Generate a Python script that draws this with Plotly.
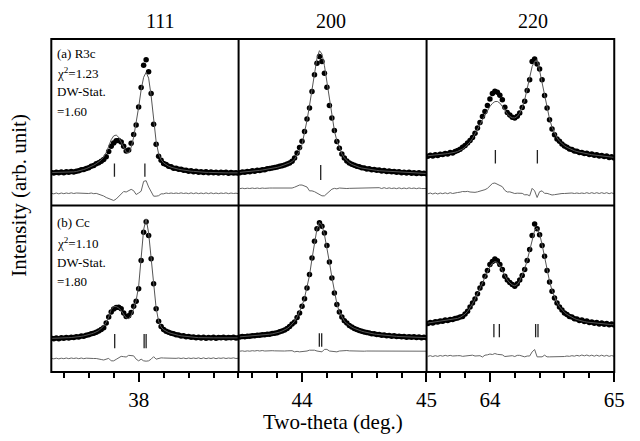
import numpy as np
import plotly.graph_objects as go

# ---------------- data ----------------
# scan grids (2-theta, deg)
tt_111 = np.round(37.65 + 0.01 * np.arange(76), 3)
tt_200 = np.round(43.50 + 0.02 * np.arange(76), 3)
tt_220 = np.round(63.50 + 0.02 * np.arange(76), 3)

# (a) R3c  -- observed (dots) and calculated (line), arb. units
obs_a_111 = [19.8, 19.5, 20.0, 19.6, 20.1, 19.7, 20.2, 19.9, 20.4, 20.1,
             20.6, 20.8, 21.4, 21.6, 22.2, 22.6, 23.6, 24.0, 25.1, 25.7,
             26.6, 27.6, 29.3, 32.4, 35.6, 37.5, 38.9, 39.1, 38.1, 35.6,
             32.8, 33.3, 37.4, 42.6, 48.3, 59.2, 70.8, 84.2, 87.6, 80.3,
             67.2, 48.8, 36.8, 29.6, 27.2, 25.3, 24.6, 23.5, 23.2, 22.4,
             22.3, 21.7, 21.8, 21.1, 21.2, 20.6, 20.9, 20.3, 20.6, 20.0,
             20.3, 19.8, 20.2, 19.7, 20.1, 19.6, 20.0, 19.5, 19.9, 19.6,
             19.9, 19.4, 19.8, 19.5, 19.7, 19.4]
calc_a_111 = [19.8, 19.8, 19.8, 19.9, 19.9, 19.9, 20.0, 20.0, 20.1, 20.2,
              20.4, 20.7, 21.1, 21.6, 22.1, 22.7, 23.4, 24.2, 25.1, 26.1,
              27.4, 29.2, 31.8, 35.5, 39.5, 41.8, 42.3, 41.0, 38.0, 34.5,
              32.0, 31.5, 35.0, 41.0, 49.0, 59.0, 69.5, 77.0, 80.0, 76.5,
              66.0, 50.5, 38.5, 31.0, 27.5, 25.6, 24.4, 23.6, 23.0, 22.5,
              22.1, 21.8, 21.5, 21.2, 21.0, 20.8, 20.6, 20.5, 20.3, 20.2,
              20.1, 20.0, 19.9, 19.9, 19.8, 19.8, 19.8, 19.7, 19.7, 19.7,
              19.6, 19.6, 19.6, 19.6, 19.6, 19.6]
obs_a_200 = [19.7, 20.1, 19.9, 20.4, 20.3, 20.8, 20.6, 21.1, 21.0, 21.5,
             21.5, 22.0, 22.2, 22.5, 22.8, 23.1, 23.5, 23.9, 24.3, 24.9,
             25.6, 26.6, 28.5, 31.5, 34.8, 38.6, 44.5, 52.0, 58.5, 68.5,
             78.5, 85.5, 89.5, 86.5, 79.5, 71.0, 60.0, 52.5, 45.0, 38.5,
             34.4, 31.0, 28.5, 26.8, 25.6, 24.7, 24.2, 23.5, 23.2, 22.6,
             22.5, 21.9, 22.0, 21.5, 21.6, 21.1, 21.3, 20.7, 21.0, 20.4,
             20.7, 20.2, 20.4, 19.9, 20.3, 19.7, 20.0, 19.5, 19.9, 19.4,
             19.7, 19.2, 19.6, 19.2, 19.4, 19.1]
calc_a_200 = [19.9, 20.0, 20.1, 20.3, 20.4, 20.6, 20.7, 20.9, 21.1, 21.3,
              21.5, 21.7, 22.0, 22.3, 22.6, 22.9, 23.3, 23.8, 24.3, 24.9,
              25.6, 26.4, 27.8, 30.2, 32.8, 36.6, 43.0, 51.2, 60.0, 70.0,
              80.5, 88.5, 93.0, 91.0, 84.0, 74.0, 62.0, 53.0, 45.0, 38.8,
              34.2, 31.0, 28.6, 26.9, 25.6, 24.7, 24.0, 23.4, 22.9, 22.5,
              22.2, 21.9, 21.7, 21.5, 21.3, 21.1, 20.9, 20.8, 20.6, 20.5,
              20.4, 20.3, 20.2, 20.1, 20.0, 19.9, 19.8, 19.7, 19.6, 19.5,
              19.5, 19.4, 19.4, 19.3, 19.3, 19.2]
obs_a_220 = [29.6, 30.2, 29.8, 30.5, 30.1, 30.8, 30.6, 31.3, 31.0, 31.8,
             31.6, 32.4, 33.0, 33.8, 35.0, 36.0, 37.6, 39.0, 40.8, 43.4,
             46.5, 49.8, 53.5, 56.5, 60.0, 64.0, 67.2, 68.6, 68.0, 66.2,
             63.5, 59.0, 55.8, 54.4, 53.0, 52.5, 53.6, 55.6, 58.8, 62.6,
             69.0, 75.5, 86.5, 88.0, 85.0, 82.0, 75.5, 66.0, 58.5, 51.5,
             46.0, 42.5, 40.0, 38.6, 37.0, 35.8, 35.0, 34.0, 33.6, 32.8,
             32.6, 31.9, 31.8, 31.2, 31.4, 30.7, 30.9, 30.2, 30.5, 29.8,
             30.1, 29.4, 29.7, 28.9, 29.3, 28.6]
calc_a_220 = [29.9, 30.0, 30.2, 30.3, 30.5, 30.6, 30.8, 31.0, 31.2, 31.4,
              31.7, 32.0, 32.5, 33.1, 33.9, 35.0, 36.4, 38.2, 40.3, 42.8,
              45.6, 48.5, 51.5, 54.3, 57.0, 59.5, 61.3, 62.4, 62.5, 61.5,
              59.5, 57.2, 55.0, 53.5, 52.7, 52.6, 53.5, 55.5, 58.8, 63.5,
              69.8, 77.0, 83.5, 86.5, 87.5, 81.0, 74.0, 66.0, 58.5, 52.0,
              47.0, 43.3, 40.6, 38.6, 37.1, 35.9, 34.9, 34.1, 33.4, 32.9,
              32.4, 32.0, 31.6, 31.3, 31.0, 30.8, 30.5, 30.3, 30.1, 29.9,
              29.7, 29.5, 29.3, 29.1, 29.0, 28.9]

# (b) Cc
obs_b_111 = [20.2, 19.9, 20.4, 20.0, 20.5, 20.2, 20.7, 20.4, 20.9, 20.7,
             21.2, 21.0, 21.6, 21.5, 22.1, 22.3, 22.9, 23.3, 23.9, 24.6,
             25.6, 26.6, 29.5, 33.0, 36.0, 37.8, 38.7, 38.9, 38.0, 35.5,
             33.3, 33.8, 35.8, 39.5, 42.5, 50.0, 67.0, 84.0, 90.3, 82.0,
             68.0, 53.0, 38.0, 30.5, 27.3, 25.6, 24.5, 23.9, 23.2, 22.9,
             22.3, 22.2, 21.6, 21.7, 21.1, 21.3, 20.8, 21.0, 20.6, 20.9,
             20.4, 20.8, 20.3, 20.7, 20.4, 20.8, 20.3, 20.7, 20.5, 20.8,
             20.4, 20.7, 20.5, 20.8, 20.4, 20.6]
calc_b_111 = [20.2, 20.2, 20.3, 20.3, 20.4, 20.4, 20.5, 20.6, 20.7, 20.8,
              21.0, 21.2, 21.4, 21.7, 22.0, 22.4, 22.9, 23.4, 24.0, 24.8,
              26.3, 27.6, 29.8, 33.0, 37.5, 39.3, 39.3, 38.5, 36.8, 34.5,
              32.5, 32.0, 34.0, 38.0, 43.0, 51.5, 67.5, 85.5, 92.0, 83.5,
              68.5, 52.0, 38.5, 30.5, 27.0, 25.4, 24.4, 23.7, 23.2, 22.7,
              22.3, 22.0, 21.7, 21.5, 21.3, 21.1, 20.9, 20.8, 20.7, 20.6,
              20.6, 20.5, 20.5, 20.5, 20.5, 20.5, 20.5, 20.5, 20.5, 20.5,
              20.5, 20.5, 20.5, 20.5, 20.5, 20.5]
obs_b_200 = [21.0, 21.3, 21.1, 21.5, 21.4, 21.8, 21.7, 22.1, 22.0, 22.4,
             22.3, 22.7, 22.7, 23.1, 23.3, 23.6, 24.1, 24.6, 25.3, 26.2,
             27.4, 28.8, 30.0, 32.8, 35.5, 39.5, 44.0, 50.5, 58.5, 68.5,
             78.5, 86.0, 89.6, 87.5, 83.5, 76.0, 66.0, 56.5, 47.5, 40.5,
             36.0, 33.0, 30.8, 29.4, 28.0, 27.0, 26.2, 25.5, 24.9, 24.5,
             24.0, 23.7, 23.4, 23.0, 22.9, 22.5, 22.5, 22.1, 22.2, 21.8,
             21.9, 21.5, 21.7, 21.3, 21.5, 21.1, 21.3, 20.9, 21.2, 20.8,
             21.1, 20.7, 21.0, 20.6, 20.9, 20.6]
calc_b_200 = [21.1, 21.2, 21.3, 21.4, 21.5, 21.6, 21.7, 21.8, 22.0, 22.1,
              22.3, 22.5, 22.7, 22.9, 23.2, 23.6, 24.0, 24.6, 25.3, 26.1,
              27.2, 28.6, 30.5, 33.0, 36.0, 39.8, 44.5, 50.5, 58.0, 68.0,
              78.0, 86.0, 89.8, 88.0, 82.5, 75.0, 66.0, 56.8, 48.0, 41.0,
              36.0, 32.8, 30.6, 29.1, 27.9, 27.0, 26.2, 25.5, 25.0, 24.5,
              24.1, 23.7, 23.4, 23.1, 22.8, 22.6, 22.4, 22.2, 22.0, 21.9,
              21.8, 21.6, 21.5, 21.4, 21.3, 21.2, 21.1, 21.0, 21.0, 20.9,
              20.9, 20.8, 20.8, 20.7, 20.7, 20.7]
obs_b_220 = [29.2, 29.8, 29.5, 30.2, 30.0, 30.7, 30.5, 31.2, 31.0, 31.6,
             31.5, 32.1, 32.4, 33.0, 33.4, 34.8, 36.5, 39.0, 41.5, 43.8,
             47.0, 50.5, 53.0, 57.5, 61.0, 64.5, 66.3, 67.8, 66.8, 64.5,
             61.5, 57.5, 55.2, 53.8, 52.5, 51.5, 53.0, 55.2, 58.0, 61.5,
             67.0, 73.5, 82.0, 88.9, 86.0, 82.5, 76.0, 69.5, 61.0, 54.0,
             48.5, 44.5, 41.5, 39.0, 37.2, 35.5, 34.6, 33.4, 33.0, 32.0,
             31.9, 31.0, 31.2, 30.4, 30.6, 29.8, 30.1, 29.3, 29.7, 28.9,
             29.4, 28.7, 29.1, 28.4, 28.8, 28.2]
calc_b_220 = [29.4, 29.6, 29.8, 30.0, 30.2, 30.4, 30.6, 30.8, 31.0, 31.2,
              31.5, 31.8, 32.2, 32.8, 33.6, 34.8, 36.4, 38.5, 41.0, 43.8,
              47.0, 50.3, 53.6, 57.0, 60.3, 63.3, 65.4, 66.3, 65.8, 63.8,
              60.8, 57.8, 55.3, 53.5, 52.3, 51.8, 52.6, 54.8, 58.0, 62.0,
              67.0, 73.5, 79.5, 85.0, 86.5, 83.0, 76.5, 69.0, 61.5, 54.5,
              49.0, 44.8, 41.6, 39.2, 37.3, 35.8, 34.6, 33.6, 32.8, 32.1,
              31.5, 31.0, 30.6, 30.3, 30.0, 29.8, 29.6, 29.4, 29.2, 29.0,
              28.9, 28.8, 28.7, 28.6, 28.5, 28.4]

# Bragg reflection positions (deg)
refl_a_111 = [37.903, 38.025]
refl_a_200 = [44.150]
refl_a_220 = [64.044, 64.382]
refl_b_111 = [37.904, 38.022, 38.030]
refl_b_200 = [44.139, 44.158]
refl_b_220 = [64.032, 64.076, 64.368, 64.387]

col_headers = ["111", "200", "220"]
panel_labels = [["(a) R3c", "χ<sup>2</sup>=1.23", "DW-Stat.", "=1.60"],
                ["(b) Cc", "χ<sup>2</sup>=1.10", "DW-Stat.", "=1.80"]]
x_ticks = [[38], [44, 45], [64, 65]]

# ---------------- layout helpers ----------------
OFF = 8                      # page body margin of the html page
W, H = 640 - OFF, 441 - OFF
FONT = "Liberation Serif"


def px(v):
    return (v - OFF) / W


def py(v):
    return 1 - (v - OFF) / H


col_px = [(52, 242.3), (242.3, 433.3), (433.3, 624)]
row_px = [(39, 205.5), (205.5, 372)]
x_ranges = [[37.65, 38.4005], [43.49, 45.001], [63.49, 65.001]]
minor_dt = [0.1, 0.2, 0.2]

grids = [tt_111, tt_200, tt_220]
obs = [[obs_a_111, obs_a_200, obs_a_220], [obs_b_111, obs_b_200, obs_b_220]]
calc = [[calc_a_111, calc_a_200, calc_a_220], [calc_b_111, calc_b_200, calc_b_220]]
refl = [[refl_a_111, refl_a_200, refl_a_220], [refl_b_111, refl_b_200, refl_b_220]]
diff_zero = [[7.3, 10.3, 7.3], [8.2, 12.6, 9.6]]
tick_span = [[(17.3, 25.3), (15.3, 24.3), (25.3, 33.3)],
             [(14.2, 22.8), (15.2, 23.2), (20.8, 28.8)]]

fig = go.Figure()
layout = dict(width=W, height=H, autosize=False, margin=dict(l=0, r=0, t=0, b=0),
              paper_bgcolor="white", plot_bgcolor="white", showlegend=False,
              font=dict(family=FONT, color="black"))

annotations = []
for r in range(2):
    for c in range(3):
        n = r * 3 + c + 1
        xa = "x" if n == 1 else f"x{n}"
        ya = "y" if n == 1 else f"y{n}"
        xkey = "xaxis" if n == 1 else f"xaxis{n}"
        ykey = "yaxis" if n == 1 else f"yaxis{n}"
        x0, x1 = col_px[c]
        y0, y1 = row_px[r]
        bottom = (r == 1)
        xd = dict(domain=[px(x0), px(x1)], range=x_ranges[c], anchor=ya,
                  showgrid=False, zeroline=False, showline=False)
        if bottom:
            xd.update(tickmode="array", tickvals=x_ticks[c],
                      ticktext=[str(v) for v in x_ticks[c]],
                      ticks="outside", ticklen=9, tickwidth=1.6, tickcolor="black",
                      tickfont=dict(family=FONT, size=21, color="black"),
                      minor=dict(dtick=minor_dt[c], tick0=0, ticks="outside",
                                 ticklen=5, tickwidth=1.6, tickcolor="black"))
        else:
            xd.update(showticklabels=False, ticks="")
        layout[xkey] = xd
        layout[ykey] = dict(domain=[py(y1), py(y0)], range=[0, 100],
                            anchor=xa, showgrid=False, zeroline=False,
                            showticklabels=False, ticks="", showline=False)

        tt = grids[c]
        o = np.array(obs[r][c])
        k = np.array(calc[r][c])
        d = diff_zero[r][c] + (o - k)
        fig.add_trace(go.Scatter(x=tt, y=o, mode="markers", xaxis=xa, yaxis=ya,
                                 marker=dict(size=5.5, color="black", line=dict(width=0))))
        fig.add_trace(go.Scatter(x=tt, y=k, mode="lines", xaxis=xa, yaxis=ya,
                                 line=dict(color="#555555", width=1)))
        fig.add_trace(go.Scatter(x=tt, y=d, mode="lines", xaxis=xa, yaxis=ya,
                                 line=dict(color="#666666", width=1)))
        lo, hi = tick_span[r][c]
        rx, ry = [], []
        for p in refl[r][c]:
            rx += [p, p, None]
            ry += [lo, hi, None]
        fig.add_trace(go.Scatter(x=rx, y=ry, mode="lines", xaxis=xa, yaxis=ya,
                                 line=dict(color="#222222", width=1.3)))

# frame lines (paper coords)
shapes = []
L, R = col_px[0][0], col_px[2][1]
T, B = row_px[0][0], row_px[1][1]
shapes.append(dict(type="rect", xref="paper", yref="paper", x0=px(L), x1=px(R),
                   y0=py(B), y1=py(T), line=dict(color="black", width=2), layer="above"))
for xv in (col_px[0][1], col_px[1][1]):
    shapes.append(dict(type="line", xref="paper", yref="paper", x0=px(xv), x1=px(xv),
                       y0=py(B), y1=py(T), line=dict(color="black", width=2), layer="above"))
shapes.append(dict(type="line", xref="paper", yref="paper", x0=px(L), x1=px(R),
                   y0=py(row_px[0][1]), y1=py(row_px[0][1]),
                   line=dict(color="black", width=2), layer="above"))

# panel texts
text_rows = [[53.3, 73.0, 91.7, 111.7], [222.7, 242.5, 262.7, 281.7]]
for r in range(2):
    for txt, yp in zip(panel_labels[r], text_rows[r]):
        annotations.append(dict(text=txt, x=px(56), y=py(yp), xref="paper", yref="paper",
                                xanchor="left", yanchor="middle", showarrow=False,
                                font=dict(family=FONT, size=13, color="black")))

# column headers
for txt, xp in zip(col_headers, [163, 336, 541]):
    annotations.append(dict(text=txt, x=px(xp), y=py(21), xref="paper", yref="paper",
                            xanchor="center", yanchor="middle", showarrow=False,
                            font=dict(family=FONT, size=20, color="black")))

# axis titles
annotations.append(dict(text="Two-theta (deg.)", x=px(338), y=py(422),
                        xref="paper", yref="paper", xanchor="center", yanchor="middle",
                        showarrow=False, font=dict(family=FONT, size=21, color="black")))
annotations.append(dict(text="Intensity (arb. unit)", x=px(19), y=py(195),
                        xref="paper", yref="paper", xanchor="center", yanchor="middle",
                        textangle=-90, showarrow=False,
                        font=dict(family=FONT, size=21, color="black")))

layout["annotations"] = annotations
layout["shapes"] = shapes
fig.update_layout(**layout)
fig.write_html("out.html")
